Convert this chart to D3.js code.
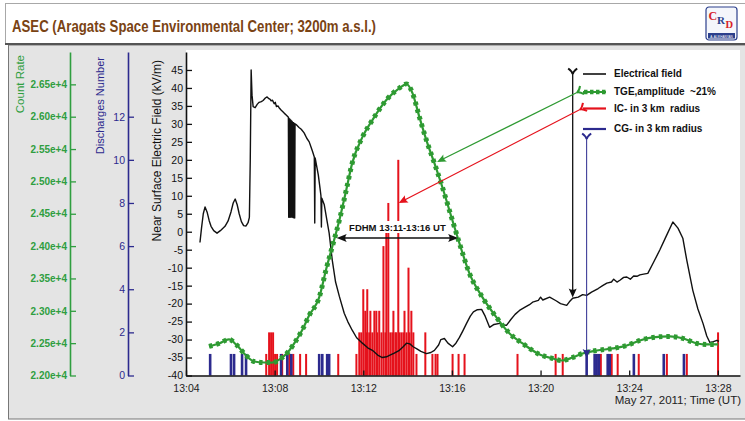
<!DOCTYPE html>
<html>
<head>
<meta charset="utf-8">
<script src="https://cdn.jsdelivr.net/npm/d3@7"></script>
<style>
  html, body { margin: 0; padding: 0; background: #fff; }
  svg { display: block; font-family: "Liberation Sans", Arial, Helvetica, sans-serif; }
  text { white-space: pre; }
</style>
</head>
<body>
<svg id="chart" width="745" height="421"></svg>
<script>
// ---- Time is given in minutes after 13:00 UT, May 27, 2011 ----

// Near-surface electric field (kV/m)
const fieldMinutes = [4.63,4.70,4.78,4.86,4.95,5.05,5.13,5.25,5.40,5.55,5.76,5.90,6.03,6.13,6.22,6.31,6.40,6.50,6.60,6.71,6.80,6.86,6.90,6.94,6.98,7.03,7.12,7.22,7.30,7.40,7.48,7.58,7.66,7.74,7.80,7.84,7.90,7.98,8.03,8.08,8.15,8.20,8.30,8.43,8.52,8.60,
  8.62,8.635,8.65,8.665,8.68,8.695,8.71,8.725,8.74,8.755,8.77,8.785,8.80,8.815,8.83,8.845,8.86,8.875,8.89,8.905,8.92,
  8.97,9.10,9.20,9.33,9.45,9.56,9.70,9.79,9.81,9.83,9.97,10.05,10.09,10.11,10.13,10.24,10.35,10.46,10.60,10.75,10.92,11.14,11.30,11.50,11.70,11.96,12.20,12.41,12.65,12.86,13.05,13.18,13.40,13.63,13.80,13.95,14.10,14.25,14.40,14.60,14.85,15.05,15.21,15.40,15.50,15.66,15.82,16.03,16.18,16.34,16.50,16.66,16.83,16.97,17.15,17.34,17.50,17.70,17.90,18.15,18.30,18.47,18.65,18.85,19.05,19.30,19.50,19.64,19.90,20.00,20.10,20.41,20.70,20.90,21.18,21.30,21.45,21.70,21.90,22.08,22.30,22.60,22.80,22.99,23.20,23.30,23.45,23.58,23.75,23.89,24.05,24.20,24.35,24.48,24.65,24.84,25.10,25.38,25.65,25.97,26.20,26.42,26.60,26.87,27.10,27.33,27.50,27.64,27.80,27.96,28.05];
const fieldValues = [-3,1,5,6.9,5.5,3,1.5,0.3,-0.4,0.3,1.5,3,5.5,8,9.1,7.5,5,2.8,1.7,1.6,2.5,4,20,45,38,34.8,34.5,35.5,36,36.2,36.5,37.2,37.5,37,36.8,36.4,36.6,35.6,36,34.8,35,34.5,33.8,33,32.5,32,
  31.8,4,31.6,4,31.4,4.2,31.2,4,31,4.3,30.8,4,30.6,4.1,30.4,3.9,30.3,4,30.1,3.8,30,
  29.8,29,28.5,27.5,26,25,22.5,20.8,2.4,20.5,15.8,12,10,1.3,9.3,7.5,3.5,-0.4,-7.9,-14,-18,-22.7,-25,-27.4,-29.5,-31,-32.3,-33,-34.3,-35,-34.8,-34.4,-33.8,-33,-32,-31,-31.2,-32,-32.5,-33.3,-33.9,-33.6,-33,-31.5,-30,-29.7,-31,-32,-31,-29.4,-27.5,-25.5,-23.5,-22.3,-21.7,-21.6,-23.5,-26.6,-25.8,-25.5,-26,-26,-24.5,-23,-21.9,-21,-20.3,-19.6,-19.1,-18.2,-19,-18.2,-19.2,-20,-20.5,-19.5,-18.5,-18.2,-17.5,-17.7,-16.8,-15.8,-15,-14.3,-14,-13.2,-14,-13.5,-12.7,-12.6,-13.2,-12.3,-12.4,-12,-11.8,-11.6,-8.5,-5.1,-1.5,2.7,1,-1.8,-8,-16.3,-21.5,-25.5,-29,-30.8,-30.6,-30.2,-30.5];

// TGE count rate
const tgeMinutes = [5.04,5.49,5.94,6.26,6.71,7.07,7.53,7.89,8.29,8.66,8.97,9.24,9.56,10.01,10.33,10.60,10.92,11.23,11.50,11.96,12.41,13.04,13.63,13.95,14.22,14.53,14.85,15.21,15.57,15.98,16.34,16.79,17.38,18.01,18.60,19.19,19.96,20.55,20.95,21.45,21.90,22.54,23.26,23.89,24.48,25.07,25.84,26.42,27.06,27.51,28.01];
const tgeCounts = [22449,22495,22557,22480,22310,22217,22201,22200,22263,22387,22542,22700,22930,23207,23650,23990,24400,24864,25282,25684,25947,26257,26443,26505,26365,25997,25635,25282,24910,24446,24043,23579,23207,22898,22650,22495,22325,22263,22232,22279,22341,22387,22418,22464,22542,22588,22604,22573,22495,22480,22480];

// Intracloud discharges within 3 km
const icMinutes = [7.62,7.75,7.84,7.93,8.02,8.11,8.34,8.66,8.84,9.15,9.42,10.87,11.69,11.82,11.91,12.00,12.09,12.14,12.18,12.27,12.32,12.41,12.50,12.59,12.63,12.72,12.82,12.91,13.00,13.04,13.13,13.22,13.31,13.36,13.45,13.49,13.58,13.63,13.72,13.81,13.86,13.95,14.04,14.08,14.17,14.26,14.40,14.80,15.12,15.26,15.35,16.03,16.30,16.57,18.96,20.68,21.00,22.72,23.21,23.48,24.43,25.70,26.60,28.01];
const icCounts = [1,2,2,2,1,1,1,1,1,1,1,1,1,2,2,4,3,2,4,2,3,2,3,3,2,3,2,6,2,7,8,2,2,3,2,2,10,2,2,2,3,2,5,2,3,2,1,2,1,1,1,1,1,1,1,1,1,1,1,1,1,1,1,2];

// Cloud-to-ground discharges within 3 km
const cgMinutes = [5.09,6.03,6.17,6.53,6.71,8.29,8.57,8.75,10.01,10.15,10.37,10.46,22.08,22.44,22.53,22.63,23.03,23.12,24.21,25.56,26.47];
const cgCounts = [1,1,1,1,1,1,1,1,1,1,1,1,1,1,1,1,1,1,1,1,1];

// Axis ticks
const timeTicks = [4,8,12,16,20,24,28];
const fieldTicks = [-40,-35,-30,-25,-20,-15,-10,-5,0,5,10,15,20,25,30,35,40,45];
const countTicks = [22000,22500,23000,23500,24000,24500,25000,25500,26000,26500];
const dischargeTicks = [0,2,4,6,8,10,12];

// Annotation anchors
const fdhmLabel = "FDHM 13:11-13:16 UT";
const fdhmFrom = 10.8, fdhmTo = 16.28, fdhmLevel = 24125;
const fieldPointer = {t: 21.45, v: -18.3};
const tgePointer = {t: 15.33, c: 25300};
const icPointer = {t: 13.6, n: 8};
const cgPointer = {t: 22.08, c: 22270};

const C = {
  field: "#111111",
  tge: "#2e9a32",
  tgeAxis: "#2f9e3f",
  ic: "#e5121c",
  cg: "#2c2a8e",
  title: "#7a4314",
  panel: "#e4e4e4"
};

const svg = d3.select("#chart");

// ---- frame: title bar and grey panel ----
svg.append("rect").attr("x", 8.5).attr("y", 45).attr("width", 740).attr("height", 374)
  .attr("fill", C.panel).attr("stroke", "#777").attr("stroke-width", 1);
svg.append("rect").attr("x", 5.5).attr("y", 3.5).attr("width", 745).attr("height", 40)
  .attr("fill", "#fff").attr("stroke", "#a8a8a8").attr("stroke-width", 1);
svg.append("line").attr("x1", 5).attr("x2", 745).attr("y1", 44).attr("y2", 44)
  .attr("stroke", "#555").attr("stroke-width", 2);
svg.append("text").attr("x", 12).attr("y", 32)
  .attr("font-family", "'Liberation Sans Narrow', 'Liberation Sans', Arial, sans-serif")
  .attr("font-weight", "bold").attr("font-size", 17).attr("fill", C.title)
  .attr("textLength", 364).attr("lengthAdjust", "spacingAndGlyphs")
  .text("ASEC (Aragats Space Environmental Center; 3200m a.s.l.)");

// small CRD badge
const logo = svg.append("g").attr("transform", "translate(706,7)")
  .attr("font-family", "'Liberation Serif', serif").attr("font-weight", "bold");
logo.append("rect").attr("width", 31).attr("height", 33).attr("rx", 3)
  .attr("fill", "#f4f6fb").attr("stroke", "#2b3f8c").attr("stroke-width", 1.2);
logo.append("text").attr("x", 2.5).attr("y", 13).attr("font-size", 12).attr("fill", "#d8232a").text("C");
logo.append("text").attr("x", 11).attr("y", 17).attr("font-size", 11).attr("fill", "#2b3f8c").text("R");
logo.append("text").attr("x", 19.5).attr("y", 21).attr("font-size", 10.5).attr("fill", "#d8232a").text("D");
logo.append("rect").attr("x", 2).attr("y", 26).attr("width", 27).attr("height", 5.5).attr("fill", "#2b3f8c");
logo.append("text").attr("x", 15.5).attr("y", 30.5).attr("text-anchor", "middle")
  .attr("font-family", "'Liberation Sans', Arial, sans-serif").attr("font-weight", "normal")
  .attr("font-size", 3).attr("fill", "#fff").text("A. ALIKHANYAN");

// ---- scales ----
const x = d3.scaleLinear().domain([4, 29]).range([186, 740]);
const yField = d3.scaleLinear().domain([-40, 50]).range([375.5, 52]);
const yCount = d3.scaleLinear().domain([22000, 27000]).range([375.5, 52]);
const yDis = d3.scaleLinear().domain([0, 15]).range([375.5, 52]);

// plot background
svg.append("rect").attr("x", x.range()[0]).attr("y", 50)
  .attr("width", x.range()[1] - x.range()[0]).attr("height", yField.range()[0] - 50)
  .attr("fill", "#fff");

// ---- discharge bars ----
const bars = svg.append("g");
bars.selectAll("rect.ic").data(icMinutes.map((t, i) => ({t, n: icCounts[i]})))
  .join("rect").attr("class", "ic")
  .attr("x", d => x(d.t) - 1).attr("width", 2)
  .attr("y", d => yDis(d.n)).attr("height", d => yDis(0) - yDis(d.n))
  .attr("fill", C.ic);
bars.selectAll("rect.cg").data(cgMinutes.map((t, i) => ({t, n: cgCounts[i]})))
  .join("rect").attr("class", "cg")
  .attr("x", d => x(d.t) - 1.3).attr("width", 2.6)
  .attr("y", d => yDis(d.n)).attr("height", d => yDis(0) - yDis(d.n))
  .attr("fill", C.cg);

// clear strip behind the FDHM label text
const fy = yCount(fdhmLevel);
const fx1 = x(fdhmFrom), fx2 = x(fdhmTo);
svg.append("rect").attr("x", fx1 + 12).attr("y", fy - 17).attr("width", fx2 - fx1 - 24).attr("height", 12)
  .attr("fill", "#fff");

// ---- electric field ----
const fieldLine = d3.line().x(d => x(d[0])).y(d => yField(d[1]));
svg.append("path").datum(fieldMinutes.map((t, i) => [t, fieldValues[i]]))
  .attr("d", fieldLine).attr("fill", "none").attr("stroke", C.field)
  .attr("stroke-width", 1.4).attr("stroke-linejoin", "round");

// ---- TGE count rate (dotted heavy line) ----
const tgeLine = d3.line().curve(d3.curveMonotoneX).x(d => x(d[0])).y(d => yCount(d[1]));
const tgeData = tgeMinutes.map((t, i) => [t, tgeCounts[i]]);
svg.append("path").datum(tgeData).attr("d", tgeLine).attr("fill", "none")
  .attr("stroke", C.tge).attr("stroke-width", 2.2);
svg.append("path").datum(tgeData).attr("d", tgeLine).attr("fill", "none")
  .attr("stroke", C.tge).attr("stroke-width", 5).attr("stroke-dasharray", "3.5 4");

// ---- axes ----
function styleAxis(g, color, fontSize, weight) {
  g.select(".domain").attr("stroke", color).attr("stroke-width", 1.6);
  g.selectAll(".tick line").attr("stroke", color).attr("stroke-width", 1.3);
  g.selectAll(".tick text").attr("fill", color).attr("font-size", fontSize)
    .attr("font-weight", weight || "normal")
    .attr("font-family", "'Liberation Sans', Arial, sans-serif");
}

// electric field axis
const gField = svg.append("g").attr("transform", `translate(${x.range()[0]},0)`);
gField.call(d3.axisLeft(yField).tickValues(d3.range(-40, 51, 1)).tickSizeInner(-3).tickSizeOuter(0).tickFormat(""));
gField.call(d3.axisLeft(yField).tickValues(fieldTicks).tickSizeInner(-6).tickSizeOuter(0).tickPadding(3).tickFormat(d => String(d)));
styleAxis(gField, "#111", 10.5);

// count rate axis
const gCount = svg.append("g").attr("transform", "translate(70,0)");
gCount.call(d3.axisLeft(yCount).tickValues(d3.range(22000, 27001, 100)).tickSizeInner(-4).tickSizeOuter(0).tickFormat(""));
gCount.call(d3.axisLeft(yCount).tickValues(countTicks).tickSizeInner(-6).tickSizeOuter(0).tickPadding(3)
  .tickFormat(d => (d / 1e4).toFixed(2) + "e+4"));
styleAxis(gCount, C.tgeAxis, 10, "bold");

// discharges axis
const gDis = svg.append("g").attr("transform", "translate(128,0)");
gDis.call(d3.axisLeft(yDis).tickValues(d3.range(0, 16, 1)).tickSizeInner(-4).tickSizeOuter(0).tickFormat(""));
gDis.call(d3.axisLeft(yDis).tickValues(dischargeTicks).tickSizeInner(-6).tickSizeOuter(0).tickPadding(3).tickFormat(d => String(d)));
styleAxis(gDis, C.cg, 10.5);

// time axis
const gTime = svg.append("g").attr("transform", `translate(0,${yField.range()[0]})`);
gTime.call(d3.axisBottom(x).tickValues(d3.range(4, 29.01, 0.5)).tickSizeInner(-3).tickSizeOuter(0).tickFormat(""));
gTime.call(d3.axisBottom(x).tickValues(timeTicks).tickSizeInner(-5).tickSizeOuter(0).tickPadding(9)
  .tickFormat(d => "13:" + String(d).padStart(2, "0")));
styleAxis(gTime, "#111", 10.5);
gTime.selectAll(".tick text").attr("fill", "#222");

svg.append("text").attr("x", 741).attr("y", 404).attr("text-anchor", "end")
  .attr("font-size", 11.5).attr("fill", "#222").text("May 27, 2011; Time (UT)");

// axis titles
function vTitle(xPos, yTop, label, color, size) {
  svg.append("text").attr("transform", `translate(${xPos},${yTop}) rotate(-90)`)
    .attr("text-anchor", "end").attr("font-size", size).attr("fill", color).text(label);
}
vTitle(24, 55, "Count Rate", C.tgeAxis, 11.5);
vTitle(103.5, 57, "Discharges Number", C.cg, 11);
vTitle(161, 60, "Near Surface Electric Field (kV/m)", "#111", 12);

// ---- annotation helpers ----
function head(g, x2, y2, angle, color, len, wid) {
  g.append("path").attr("d", `M0,0 L${-len},${-wid / 2} Q${-len * 0.7},0 ${-len},${wid / 2} Z`)
    .attr("transform", `translate(${x2},${y2}) rotate(${angle})`).attr("fill", color);
}
function tail(g, x1, y1, angle, color) {
  g.append("path").attr("d", "M-4.5,-4.5 Q-1.5,-0.5 1,0 Q-1.5,0.5 -4.5,4.5")
    .attr("transform", `translate(${x1},${y1}) rotate(${angle})`)
    .attr("fill", "none").attr("stroke", color).attr("stroke-width", 2);
}
function pointer(x1, y1, x2, y2, color, w) {
  const g = svg.append("g");
  const a = Math.atan2(y2 - y1, x2 - x1);
  const deg = a * 180 / Math.PI;
  g.append("line").attr("x1", x1).attr("y1", y1)
    .attr("x2", x2 - Math.cos(a) * 6).attr("y2", y2 - Math.sin(a) * 6)
    .attr("stroke", color).attr("stroke-width", w);
  head(g, x2, y2, deg, color, 9, 8);
  tail(g, x1, y1, deg, color);
}

// ---- legend ----
const legX1 = 583, legX2 = 606, legText = 614;
const leg = svg.append("g").attr("font-size", 10).attr("font-weight", "bold").attr("fill", "#111");
leg.append("line").attr("x1", legX1).attr("x2", legX2).attr("y1", 74).attr("y2", 74)
  .attr("stroke", C.field).attr("stroke-width", 1.6);
leg.append("line").attr("x1", legX1).attr("x2", legX2).attr("y1", 92).attr("y2", 92)
  .attr("stroke", C.tge).attr("stroke-width", 2);
leg.append("line").attr("x1", legX1 + 1).attr("x2", legX2).attr("y1", 92).attr("y2", 92)
  .attr("stroke", C.tge).attr("stroke-width", 4.5).attr("stroke-dasharray", "3.5 2.5");
leg.append("line").attr("x1", legX1).attr("x2", legX2).attr("y1", 108.5).attr("y2", 108.5)
  .attr("stroke", C.ic).attr("stroke-width", 2.2);
leg.append("line").attr("x1", legX1).attr("x2", legX2).attr("y1", 129).attr("y2", 129)
  .attr("stroke", C.cg).attr("stroke-width", 2.2);
leg.append("text").attr("x", legText).attr("y", 77).text("Electrical field");
leg.append("text").attr("x", legText).attr("y", 94.5).text("TGE,amplitude  ~21%");
leg.append("text").attr("x", legText).attr("y", 111.5).text("IC- in 3 km  radius");
leg.append("text").attr("x", legText).attr("y", 132).text("CG- in 3 km radius");

// pointers from the legend to the curves
pointer(x(fieldPointer.t), 73, x(fieldPointer.t), yField(fieldPointer.v), C.field, 1.3);
pointer(578, 92, x(tgePointer.t), yCount(tgePointer.c), C.tge, 1.2);
pointer(581, 109, x(icPointer.t), yDis(icPointer.n), C.ic, 1.2);
pointer(x(cgPointer.t), 138, x(cgPointer.t), yCount(cgPointer.c), C.cg, 1);

// ---- FDHM marker ----
const fg = svg.append("g");
fg.append("line").attr("x1", fx1 + 6).attr("x2", fx2 - 6).attr("y1", fy).attr("y2", fy)
  .attr("stroke", "#111").attr("stroke-width", 1.5);
head(fg, fx2, fy, 0, "#111", 10, 8);
head(fg, fx1, fy, 180, "#111", 10, 8);
fg.append("text").attr("x", (fx1 + fx2) / 2).attr("y", fy - 7).attr("text-anchor", "middle")
  .attr("font-size", 9.5).attr("font-weight", "bold").attr("fill", "#111").text(fdhmLabel);
</script>
</body>
</html>
